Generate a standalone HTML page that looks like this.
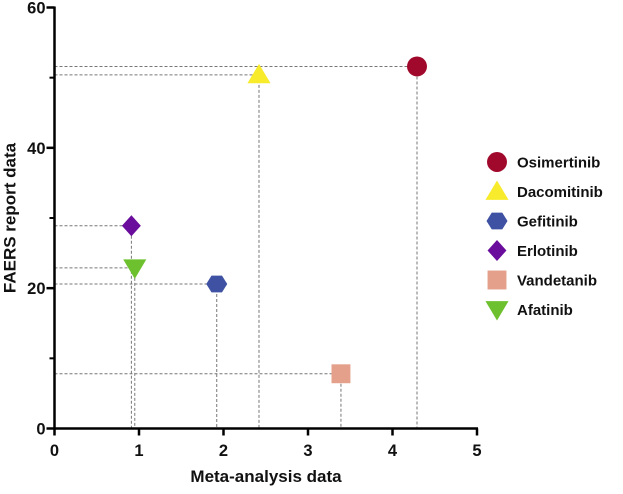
<!DOCTYPE html>
<html><head><meta charset="utf-8"><style>
body{margin:0;background:#fff;}
svg text{font-family:"Liberation Sans",Arial,sans-serif;font-weight:bold;fill:#111;}
</style></head><body>
<svg id="chart" width="623" height="489" viewBox="0 0 623 489" xmlns="http://www.w3.org/2000/svg"></svg>
<script>
const drugs=["Osimertinib","Dacomitinib","Gefitinib","Erlotinib","Vandetanib","Afatinib"];
const metaValues=[4.29,2.42,1.92,0.91,3.39,0.95];
const faersValues=[51.6,50.4,20.6,28.9,7.8,22.9];
const colors=["#A0092B","#F7EB2C","#3F51A3","#6A0C9C","#E4A08A","#6DC02E"];
const shapes=["circle","triangle","hexagon","diamond","square","downtriangle"];
const xTicks=[0,1,2,3,4,5];
const yTicks=[0,20,40,60];
const yMinor=[10,30,50];
const NS="http://www.w3.org/2000/svg";
const svg=document.getElementById('chart');
const X0=54.5,X1=477,Y0=428.5,Y1=7.5;
const xs=v=>X0+(X1-X0)*v/5;
const ys=v=>Y0-(Y0-Y1)*v/60;
function mk(t,a,p){const e=document.createElementNS(NS,t);for(const k in a)e.setAttribute(k,a[k]);(p||svg).appendChild(e);return e;}
drugs.forEach((d,i)=>{
 const px=xs(metaValues[i]),py=ys(faersValues[i]);
 const h=mk('line',{x1:X0,y1:py,x2:px,y2:py,stroke:'#777','stroke-width':1,'stroke-dasharray':'3,2'});
 
 
 const v=mk('line',{x1:px,y1:py,x2:px,y2:Y0,stroke:'#777','stroke-width':1,'stroke-dasharray':'3,2'});
 
 
});
const xa=mk('line',{x1:X0,y1:Y0,x2:X1+1,y2:Y0,stroke:'#000','stroke-width':2.5});


const ya=mk('line',{x1:X0,y1:Y0+1,x2:X0,y2:Y1-1,stroke:'#000','stroke-width':2.5});


xTicks.forEach(t=>{
 const l=mk('line',{x1:xs(t),y1:Y0,x2:xs(t),y2:Y0+7,stroke:'#000','stroke-width':2.5});
 
 
 const tx=mk('text',{x:xs(t),y:456,'text-anchor':'middle','font-size':16.5});
 tx.textContent=t;
 
 
});
yTicks.forEach(t=>{
 const l=mk('line',{x1:X0-8,y1:ys(t),x2:X0,y2:ys(t),stroke:'#000','stroke-width':2.5});
 
 
 const tx=mk('text',{x:X0-9,y:ys(t)+6,'text-anchor':'end','font-size':16.5});
 tx.textContent=t;
 
 
});
yMinor.forEach(t=>{
 const l=mk('line',{x1:X0-5,y1:ys(t),x2:X0,y2:ys(t),stroke:'#000','stroke-width':2});
 
 
});
const xt=mk('text',{x:266,y:482,'text-anchor':'middle','font-size':17});
xt.textContent='Meta-analysis data';


const yt=mk('text',{x:0,y:0,'text-anchor':'middle','font-size':17,transform:'translate(15.5,218) rotate(-90)'});
yt.textContent='FAERS report data';


function marker(shape,cx,cy,c,s){
 let e;
 if(shape==='circle')e=mk('circle',{cx,cy,r:s*0.95,fill:c});
 else if(shape==='square')e=mk('rect',{x:cx-s*0.9,y:cy-s*0.9,width:s*1.8,height:s*1.8,fill:c});
 else{let pts;
  if(shape==='triangle')pts=[[0,-s*1.05],[s*1.1,s*0.8],[-s*1.1,s*0.8]];
  else if(shape==='downtriangle')pts=[[0,s*1.05],[s*1.1,-s*0.8],[-s*1.1,-s*0.8]];
  else if(shape==='diamond')pts=[[0,-s],[s*0.9,0],[0,s],[-s*0.9,0]];
  else pts=[0,1,2,3,4,5].map(k=>[Math.cos(k*Math.PI/3)*s,Math.sin(k*Math.PI/3)*s*0.92]);
  e=mk('polygon',{points:pts.map(p=>(cx+p[0])+','+(cy+p[1])).join(' '),fill:c});}
 return e;
}
drugs.forEach((d,i)=>{
 const m=marker(shapes[i],xs(metaValues[i]),ys(faersValues[i]),colors[i],10.5);
 
 
 const ly=162+i*29.5;
 const lm=marker(shapes[i],497,ly,colors[i],10.5);
 
 
 const lt=mk('text',{x:517,y:ly+5.5,'font-size':15});
 lt.textContent=d;
 
 
});
</script>
</body></html>
